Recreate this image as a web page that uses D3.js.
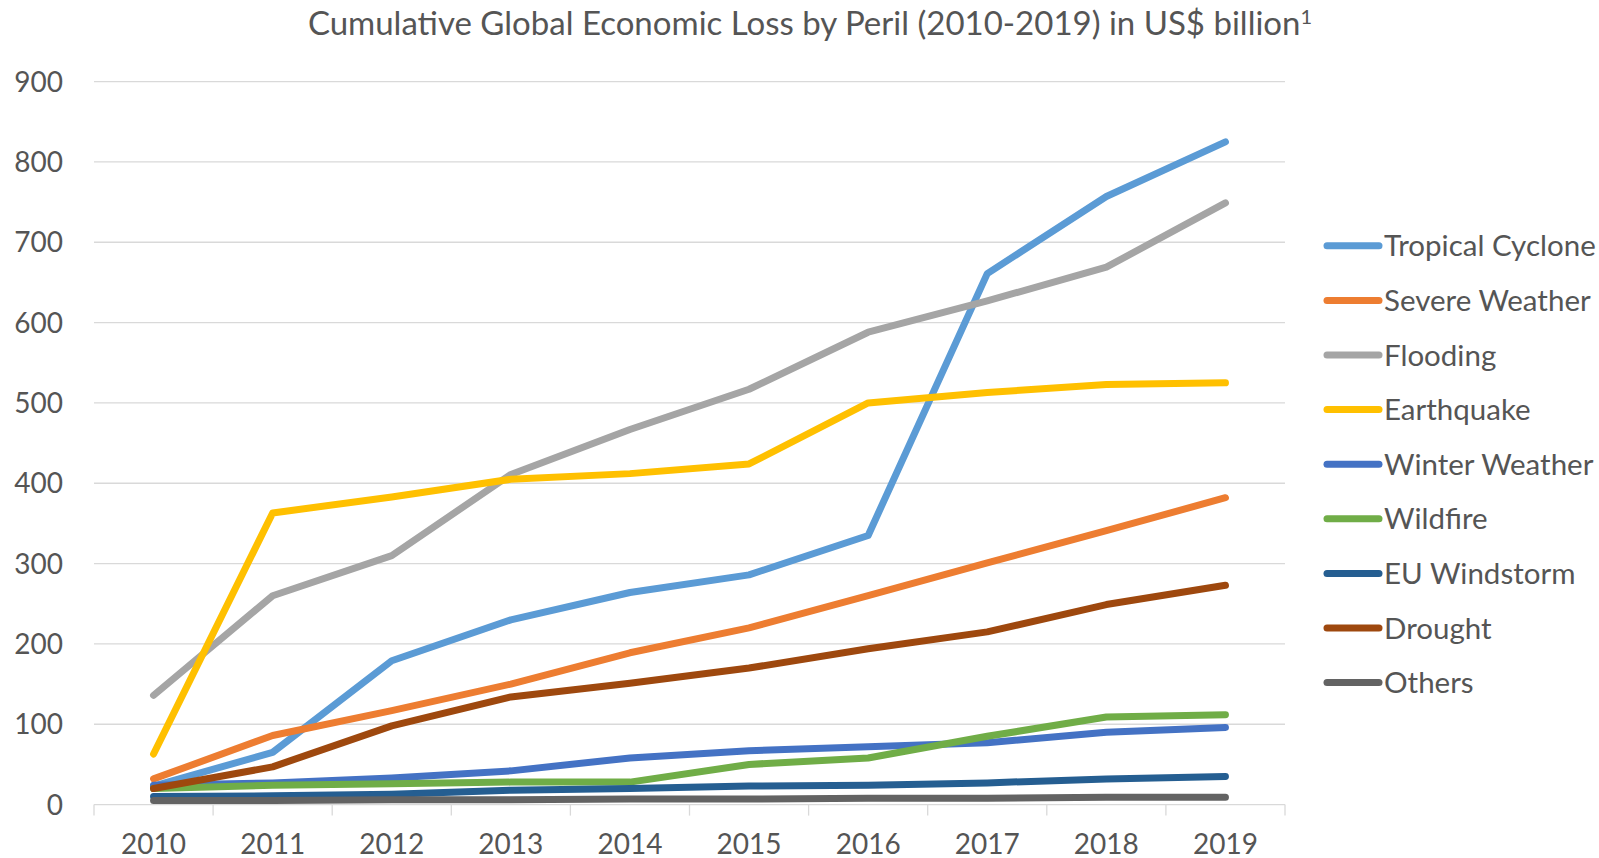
<!DOCTYPE html>
<meta charset="utf-8">
<style>
body { margin: 0; background: #fff; }
text { font-family: Lato, "Open Sans", sans-serif; fill: #555; }
.grid line { stroke: #d9d9d9; stroke-width: 1.3px; }
.series path { fill: none; stroke-width: 7px; stroke-linejoin: round; stroke-linecap: round; }
</style>
<svg id="chart" width="1599" height="858"></svg>
<script src="https://cdn.jsdelivr.net/npm/d3@7"></script>
<script>
var years = [2010, 2011, 2012, 2013, 2014, 2015, 2016, 2017, 2018, 2019];
var yTicks = [0, 100, 200, 300, 400, 500, 600, 700, 800, 900];
var perils = ["Tropical Cyclone", "Severe Weather", "Flooding", "Earthquake", "Winter Weather", "Wildfire", "EU Windstorm", "Drought", "Others"];
var colors = ["#5b9bd5", "#ed7d31", "#a5a5a5", "#ffc000", "#4472c4", "#70ad47", "#255e91", "#9e480e", "#636363"];

var tropicalCyclone = [23, 65, 179, 230, 264, 286, 335, 661, 757, 825];
var severeWeather   = [32, 86, 117, 150, 189, 220, 260, 301, 341, 382];
var flooding        = [136, 260, 310, 411, 467, 517, 588, 627, 669, 749];
var earthquake      = [63, 363, 383, 405, 412, 424, 500, 513, 523, 525];
var winterWeather   = [24, 27, 33, 42, 58, 67, 72, 77, 90, 96];
var wildfire        = [20, 24, 26, 28, 28, 50, 58, 85, 109, 112];
var euWindstorm     = [10, 11, 13, 18, 20, 23, 24, 27, 32, 35];
var drought         = [20, 47, 98, 134, 151, 170, 194, 215, 249, 273];
var others          = [5, 5, 6, 6, 7, 7, 8, 8, 9, 9];

var seriesValues = [tropicalCyclone, severeWeather, flooding, earthquake, winterWeather, wildfire, euWindstorm, drought, others];

var svg = d3.select("#chart"),
    plotLeft = 94, plotRight = 1285, plotTop = 81.6, plotBottom = 804.6;

var x = d3.scalePoint().domain(years).range([plotLeft, plotRight]).padding(0.5);
var y = d3.scaleLinear().domain([0, 900]).range([plotBottom, plotTop]);
var step = x.step();

// title
svg.append("text")
    .attr("x", 810)
    .attr("y", 35)
    .attr("text-anchor", "middle")
    .style("font-size", "33px")
    .text("Cumulative Global Economic Loss by Peril (2010-2019) in US$ billion")
  .append("tspan")
    .attr("dy", -11)
    .style("font-size", "20px")
    .text("1");

// gridlines
svg.append("g").attr("class", "grid")
  .selectAll("line")
  .data(yTicks.filter(function(d){return d > 0;}))
  .enter().append("line")
    .attr("x1", plotLeft).attr("x2", plotRight)
    .attr("y1", function(d){return y(d);})
    .attr("y2", function(d){return y(d);});

// y labels
svg.append("g")
  .selectAll("text")
  .data(yTicks)
  .enter().append("text")
    .attr("x", 63)
    .attr("y", function(d){return y(d);})
    .attr("dy", "0.36em")
    .attr("text-anchor", "end")
    .style("font-size", "28px")
    .text(function(d){return d;});

// x axis line + tick marks between categories
var axis = svg.append("g").attr("class", "grid");
axis.append("line")
    .attr("x1", plotLeft).attr("x2", plotRight)
    .attr("y1", plotBottom).attr("y2", plotBottom);
var bounds = years.map(function(d){return x(d) - step / 2;}).concat([plotRight]);
axis.selectAll(".tk")
  .data(bounds)
  .enter().append("line")
    .attr("x1", function(d){return d;}).attr("x2", function(d){return d;})
    .attr("y1", plotBottom).attr("y2", plotBottom + 11);

svg.append("g")
  .selectAll("text")
  .data(years)
  .enter().append("text")
    .attr("x", function(d){return x(d);})
    .attr("y", 854)
    .attr("text-anchor", "middle")
    .style("font-size", "28px")
    .text(function(d){return d;});

// lines
var line = d3.line()
    .x(function(d, i){return x(years[i]);})
    .y(function(d){return y(d);});

svg.append("g").attr("class", "series")
  .selectAll("path")
  .data(seriesValues)
  .enter().append("path")
    .attr("stroke", function(d, i){return colors[i];})
    .attr("d", line);

// legend
var legend = svg.append("g")
  .selectAll("g")
  .data(perils)
  .enter().append("g")
    .attr("transform", function(d, i){return "translate(0," + (245.8 + i * 54.6) + ")";});
legend.append("line")
    .attr("x1", 1327).attr("x2", 1379)
    .attr("stroke", function(d, i){return colors[i];})
    .attr("stroke-width", 7)
    .attr("stroke-linecap", "round");
legend.append("text")
    .attr("x", 1384)
    .attr("dy", "0.36em")
    .style("font-size", "29.5px")
    .text(function(d){return d;});
</script>
